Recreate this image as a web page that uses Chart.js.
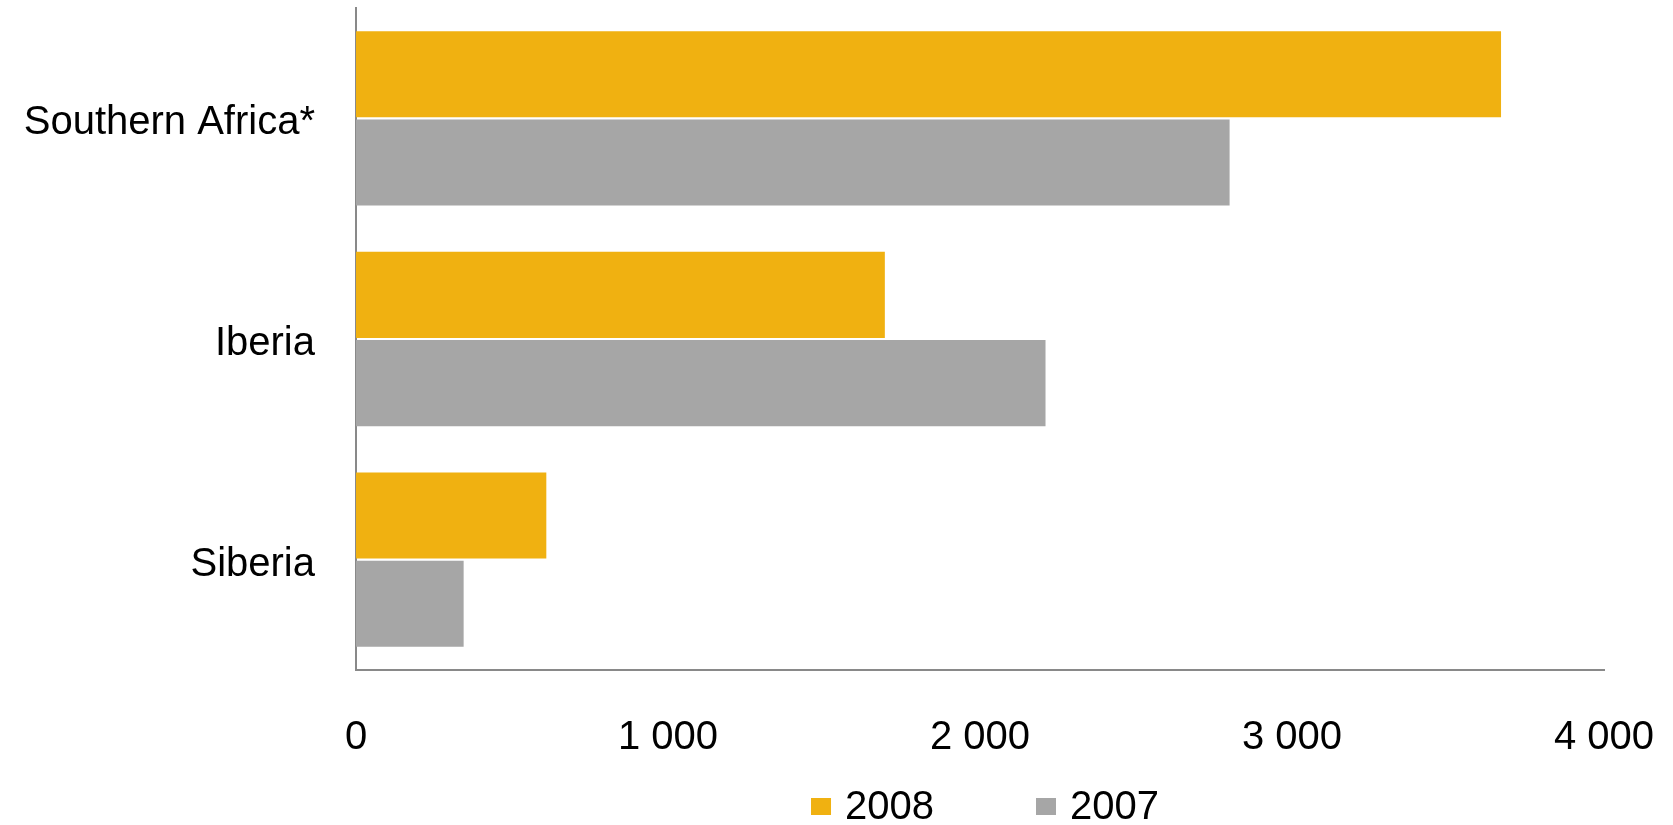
<!DOCTYPE html>
<html>
<head>
<meta charset="utf-8">
<script src="https://cdn.jsdelivr.net/npm/chart.js@4/dist/chart.umd.min.js"></script>
<style>
  html, body { margin: 0; padding: 0; background: #fff; }
  #wrap { width: 1673px; height: 825px; }
</style>
</head>
<body>
<div id="wrap"><canvas id="regionChart" width="1673" height="825"></canvas></div>
<script>
var regions = ["Southern Africa*", "Iberia", "Siberia"];
var series2008 = [3670, 1695, 610];
var series2007 = [2800, 2210, 345];
var xTicks = [0, 1000, 2000, 3000, 4000];

var gold = "#F0B111";
var grey = "#A6A6A6";
var axisColor = "#898989";
var fontFamily = "'Liberation Sans', Arial, sans-serif";

function spaced(v) {
    return String(v).replace(/\B(?=(\d{3})+(?!\d))/g, " ");
}

// keep the plot area where the reference has it
function noOverhang(s) {
    s.paddingTop = 0;
    s.paddingBottom = 0;
    s.paddingLeft = 0;
    s.paddingRight = 0;
}

// legend drawn by hand so the items can sit far apart
var bottomLegend = {
    id: "bottomLegend",
    afterDraw: function (chart) {
        var ctx = chart.ctx;
        var sets = chart.data.datasets;
        var box = 20, boxH = 17, gap = 14, spacing = 102;
        ctx.save();
        ctx.font = "40px " + fontFamily;
        var widths = sets.map(function (ds) {
            return box + gap + ctx.measureText(ds.label).width;
        });
        var total = widths.reduce(function (a, b) { return a + b; }, 0) + spacing * (sets.length - 1);
        var area = chart.chartArea;
        var x = (area.left + area.right) / 2 + 5 - total / 2;
        var baseline = 819;
        ctx.textBaseline = "alphabetic";
        ctx.textAlign = "left";
        sets.forEach(function (ds, i) {
            ctx.fillStyle = ds.backgroundColor;
            ctx.fillRect(x, baseline - 21, box, boxH);
            ctx.fillStyle = "#000";
            ctx.fillText(ds.label, x + box + gap, baseline);
            x += widths[i] + spacing;
        });
        ctx.restore();
    }
};

new Chart(document.getElementById("regionChart").getContext("2d"), {
    type: "bar",
    data: {
        labels: regions,
        datasets: [{
            label: "2008",
            data: series2008,
            backgroundColor: gold,
            borderWidth: 0
        }, {
            label: "2007",
            data: series2007,
            backgroundColor: grey,
            borderWidth: 0
        }]
    },
    options: {
        indexAxis: "y",
        responsive: false,
        animation: false,
        categoryPercentage: 0.8,
        barPercentage: 0.975,
        layout: { padding: { left: 0, right: 69, top: 8, bottom: 62 } },
        plugins: {
            legend: { display: false },
            tooltip: { enabled: false }
        },
        scales: {
            x: {
                min: 0,
                max: 4000,
                afterBuildTicks: function (s) {
                    s.ticks = xTicks.map(function (v) { return { value: v }; });
                },
                afterFit: function (s) { s.height = 93; noOverhang(s); },
                grid: { display: false, drawTicks: false },
                border: { display: true, color: axisColor, width: 2 },
                ticks: {
                    padding: 44,
                    color: "#000",
                    font: { family: fontFamily, size: 40 },
                    maxRotation: 0,
                    callback: function (v) { return spaced(v); }
                }
            },
            y: {
                afterFit: function (s) { s.width = 356; noOverhang(s); },
                grid: { display: false, drawTicks: false },
                border: { display: true, color: axisColor, width: 2 },
                ticks: {
                    padding: 41,
                    labelOffset: 5,
                    color: "#000",
                    font: { family: fontFamily, size: 40 }
                }
            }
        }
    },
    plugins: [bottomLegend]
});
</script>
</body>
</html>
